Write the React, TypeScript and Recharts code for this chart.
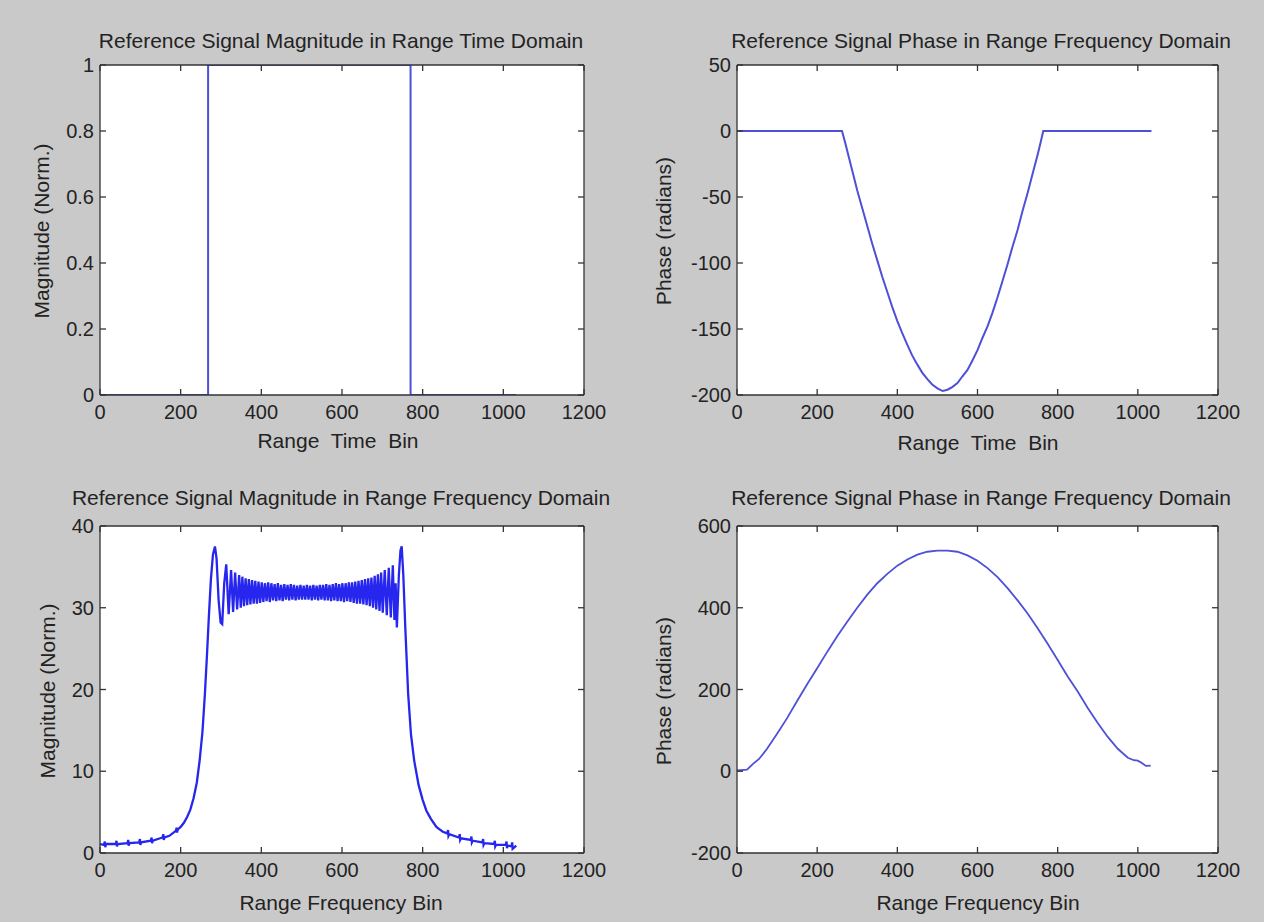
import React from "react";
import { LineChart, Line, XAxis, YAxis, CartesianGrid } from "recharts";

// values
const binTicks = [0, 200, 400, 600, 800, 1000, 1200];

// reference signal magnitude, range time domain: [bin, magnitude]
const timeMagPts = [
  [0, 0], [268, 0], [268, 1], [770, 1], [770, 0], [1032, 0],
];
const timeMagTicks = [0, 0.2, 0.4, 0.6, 0.8, 1];

// reference signal phase, range time domain: [bin, radians]
const timePhasePts = [
  [0, 0], [262, 0], [270, -9], [280, -21], [290, -33], [300, -45], [312, -58],
  [325, -72], [337, -85], [350, -98], [362, -110], [375, -122], [387, -133],
  [400, -144], [412, -153], [425, -162], [437, -170], [450, -177], [462, -183],
  [475, -188], [487, -192], [500, -195], [513, -197], [525, -196], [537, -194],
  [550, -191], [562, -186], [575, -181], [587, -174], [600, -166], [612, -157],
  [625, -148], [637, -138], [650, -126], [662, -114], [675, -101], [687, -88],
  [700, -75], [712, -61], [725, -47], [737, -33], [750, -18], [758, -8],
  [764, 0], [1034, 0],
];
const timePhaseTicks = [-200, -150, -100, -50, 0, 50];

// reference signal magnitude, range frequency domain (in pieces)
const freqMagTailLeft = [
  [0, 1.1], [10, 1.0], [12, 1.4], [13, 0.7], [15, 1.1],
  [39, 1.1], [41, 1.5], [42, 0.8], [44, 1.1],
  [68, 1.2], [70, 1.6], [71, 0.9], [73, 1.2],
  [97, 1.3], [99, 1.7], [100, 1.0], [102, 1.3],
  [126, 1.5], [128, 1.9], [129, 1.2], [131, 1.5],
  [155, 1.9], [157, 2.3], [158, 1.6], [160, 1.9],
  [172, 2.1], [188, 2.7], [190, 3.1], [191, 2.5], [193, 2.9], [200, 3.2],
];
const freqMagRise = [
  [208, 3.7], [216, 4.4], [224, 5.3], [232, 6.7], [240, 8.6], [247, 11.3],
  [254, 14.8], [260, 19.4], [265, 24], [270, 29], [275, 33.5], [280, 36.5],
  [285, 37.5], [289, 36], [294, 31], [299, 28.2], [303, 28.0],
];
const freqMagRipple = [
  [308, 33], [313, 35.3], [319, 29.2], [325, 34.6], [330, 29.5], [335, 34.3],
  [340, 29.8], [345, 34.0], [349, 30.0], [353, 33.8], [357, 30.2], [361, 33.6],
  [365, 30.3], [369, 33.5], [373, 30.4], [377, 33.4], [381, 30.5], [385, 33.3],
  [389, 30.5], [393, 33.2], [397, 30.6], [401, 33.1], [405, 30.7], [409, 33.0],
  [413, 30.8], [417, 33.1], [421, 30.7], [425, 33.0], [429, 30.9], [433, 32.9],
  [437, 30.8], [441, 33.0], [445, 30.9], [449, 32.8], [453, 30.8], [457, 32.9],
  [461, 31.0], [465, 32.8], [469, 30.9], [473, 32.9], [477, 31.0], [481, 32.8],
  [485, 30.9], [489, 32.7], [493, 31.0], [497, 32.8], [501, 31.0], [505, 32.7],
  [509, 31.0], [513, 32.8], [517, 31.0], [521, 32.7], [525, 30.9], [529, 32.8],
  [533, 31.0], [537, 32.7], [541, 30.9], [545, 32.8], [549, 31.0], [553, 32.8],
  [557, 30.9], [561, 32.9], [565, 30.9], [569, 32.8], [573, 30.8], [577, 32.9],
  [581, 30.9], [585, 33.0], [589, 30.8], [593, 32.9], [597, 30.8], [601, 33.0],
  [605, 30.7], [609, 33.0], [613, 30.8], [617, 33.1], [621, 30.7], [625, 33.1],
  [629, 30.6], [633, 33.2], [637, 30.5], [641, 33.3], [645, 30.5], [649, 33.4],
  [653, 30.4], [657, 33.5], [661, 30.3], [665, 33.6], [669, 30.2], [673, 33.7],
  [677, 30.0], [681, 33.9], [685, 29.8], [689, 34.1], [693, 29.6], [697, 34.3],
  [701, 29.4], [706, 34.6], [711, 29.1], [716, 34.9], [721, 28.8], [726, 35.2],
  [730, 28.5], [733, 33.0], [736, 27.6], [741, 34.0], [745, 37.0], [748, 37.5],
];
const freqMagFall = [
  [752, 34], [757, 27.5], [764, 19.5], [771, 14.5], [779, 11.3], [790, 8.3],
  [800, 6.5], [809, 5.2], [820, 4.2], [834, 3.2],
];
const freqMagTailRight = [
  [842, 2.9], [850, 2.6], [861, 2.4], [863, 2.8], [864, 2.1], [866, 2.3],
  [890, 1.9], [892, 2.3], [893, 1.6], [895, 1.8],
  [919, 1.6], [921, 2.0], [922, 1.3], [924, 1.5],
  [948, 1.3], [950, 1.7], [951, 1.0], [953, 1.2],
  [977, 1.1], [979, 1.5], [980, 0.8], [982, 1.0],
  [1006, 1.0], [1008, 1.4], [1009, 0.6], [1011, 0.9],
  [1020, 0.8], [1022, 1.3], [1023, 0.5], [1032, 0.9],
];
const freqMagTicks = [0, 10, 20, 30, 40];

// reference signal phase, range frequency domain: [bin, radians]
const freqPhasePts = [
  [0, 2], [10, 3], [25, 4], [40, 18], [55, 30], [75, 55], [100, 92], [125, 130],
  [150, 172], [175, 213], [200, 252], [225, 292], [250, 330], [275, 366],
  [300, 400], [325, 432], [350, 460], [375, 483], [400, 503], [425, 518],
  [450, 530], [475, 537], [500, 540], [525, 540], [550, 537], [575, 528],
  [600, 515], [625, 497], [650, 475], [675, 448], [700, 418], [725, 386],
  [750, 350], [775, 312], [800, 272], [825, 232], [850, 195], [875, 155],
  [900, 118], [925, 84], [950, 55], [975, 33], [990, 27], [1000, 26],
  [1010, 20], [1020, 13], [1032, 14],
];
const freqPhaseTicks = [-200, 0, 200, 400, 600];

const FONT = '"Liberation Sans", Arial, Helvetica, sans-serif';
const TEXT = "#232323";
const AXIS = "#333333";
const TICK = 6;

const rows = (pts: number[][]) => pts.map(([x, y]) => ({ x, y }));

const BottomTick = (props: any) => {
  const { x, y, payload } = props;
  const axisY = y - 2;
  return (
    <g>
      <line x1={x} y1={axisY} x2={x} y2={axisY - TICK} stroke={AXIS} strokeWidth={1.3} />
      <text x={x} y={axisY + 24} textAnchor="middle" fontSize={20} fontFamily={FONT} fill={TEXT}>
        {payload.value}
      </text>
    </g>
  );
};

const LeftTick = (props: any) => {
  const { x, y, payload } = props;
  const axisX = x + 2;
  return (
    <g>
      <line x1={axisX} y1={y} x2={axisX + TICK} y2={y} stroke={AXIS} strokeWidth={1.3} />
      <text x={axisX - 6} y={y + 7} textAnchor="end" fontSize={20} fontFamily={FONT} fill={TEXT}>
        {payload.value}
      </text>
    </g>
  );
};

const TopTick = (props: any) => (
  <line x1={props.x} y1={props.y} x2={props.x} y2={props.y + TICK} stroke={AXIS} strokeWidth={1.3} />
);

const RightTick = (props: any) => (
  <line x1={props.x} y1={props.y} x2={props.x - TICK} y2={props.y} stroke={AXIS} strokeWidth={1.3} />
);

interface PanelProps {
  px: number;
  py: number;
  pw: number;
  ph: number;
  yTicks: number[];
  pts: number[][];
  color: string;
  width: number;
}

const Panel = ({ px, py, pw, ph, yTicks, pts, color, width }: PanelProps) => {
  const yDomain = [yTicks[0], yTicks[yTicks.length - 1]];
  return (
    <div style={{ position: "absolute", left: px - 100, top: py - 65 }}>
      <LineChart
        width={pw + 150}
        height={ph + 125}
        data={rows(pts)}
        margin={{ top: 64, right: 49, bottom: 20, left: 40 }}
      >
        <CartesianGrid fill="#ffffff" horizontal={false} vertical={false} stroke="none" />
        <XAxis
          type="number"
          dataKey="x"
          domain={[0, 1200]}
          ticks={binTicks}
          interval={0}
          allowDataOverflow
          height={40}
          tickSize={0}
          tickMargin={2}
          tickLine={false}
          axisLine={{ stroke: AXIS, strokeWidth: 1.3 }}
          tick={<BottomTick />}
        />
        <XAxis
          xAxisId="top"
          orientation="top"
          type="number"
          dataKey="x"
          domain={[0, 1200]}
          ticks={binTicks}
          interval={0}
          allowDataOverflow
          height={1}
          tickSize={0}
          tickMargin={0}
          tickLine={false}
          axisLine={{ stroke: AXIS, strokeWidth: 1.3 }}
          tick={<TopTick />}
        />
        <YAxis
          type="number"
          domain={yDomain}
          ticks={yTicks}
          interval={0}
          allowDataOverflow
          width={60}
          tickSize={0}
          tickMargin={2}
          tickLine={false}
          axisLine={{ stroke: AXIS, strokeWidth: 1.3 }}
          tick={<LeftTick />}
        />
        <YAxis
          yAxisId="right"
          orientation="right"
          type="number"
          domain={yDomain}
          ticks={yTicks}
          interval={0}
          allowDataOverflow
          width={1}
          tickSize={0}
          tickMargin={0}
          tickLine={false}
          axisLine={{ stroke: AXIS, strokeWidth: 1.3 }}
          tick={<RightTick />}
        />
        <Line
          dataKey="y"
          type="linear"
          stroke={color}
          strokeWidth={width}
          dot={false}
          isAnimationActive={false}
        />
      </LineChart>
    </div>
  );
};

const Caption = ({ x, y, text, vertical }: { x: number; y: number; text: string; vertical?: boolean }) => (
  <div
    style={{
      position: "absolute",
      left: x,
      top: y,
      transform: `translate(-50%, -50%)${vertical ? " rotate(-90deg)" : ""}`,
      whiteSpace: "pre",
      fontFamily: FONT,
      fontSize: 21,
      lineHeight: "21px",
      color: TEXT,
    }}
  >
    {text}
  </div>
);

export default function App() {
  const lineBlue = "#4f4fd8";
  const freqMagPts = [
    ...freqMagTailLeft,
    ...freqMagRise,
    ...freqMagRipple,
    ...freqMagFall,
    ...freqMagTailRight,
  ];
  return (
    <div
      style={{
        position: "absolute",
        left: 0,
        top: 0,
        width: 1264,
        height: 922,
        background: "#c9c9c9",
        overflow: "hidden",
      }}
    >
      <Panel px={100} py={65} pw={484} ph={330} yTicks={timeMagTicks}
        pts={timeMagPts} color={lineBlue} width={2} />
      <Panel px={737} py={65} pw={481} ph={330} yTicks={timePhaseTicks}
        pts={timePhasePts} color={lineBlue} width={2} />
      <Panel px={100} py={526} pw={484} ph={327} yTicks={freqMagTicks}
        pts={freqMagPts} color="#2626ee" width={2.3} />
      <Panel px={737} py={526} pw={481} ph={327} yTicks={freqPhaseTicks}
        pts={freqPhasePts} color={lineBlue} width={1.8} />

      <Caption x={341} y={40} text="Reference Signal Magnitude in Range Time Domain" />
      <Caption x={981} y={40} text="Reference Signal Phase in Range Frequency Domain" />
      <Caption x={341} y={497} text="Reference Signal Magnitude in Range Frequency Domain" />
      <Caption x={981} y={497} text="Reference Signal Phase in Range Frequency Domain" />

      <Caption x={338} y={440} text="Range  Time  Bin" />
      <Caption x={978} y={442} text="Range  Time  Bin" />
      <Caption x={341} y={902} text="Range Frequency Bin" />
      <Caption x={978} y={902} text="Range Frequency Bin" />

      <Caption x={41} y={231} text="Magnitude (Norm.)" vertical />
      <Caption x={663} y={231} text="Phase (radians)" vertical />
      <Caption x={47} y={691} text="Magnitude (Norm.)" vertical />
      <Caption x={663} y={691} text="Phase (radians)" vertical />
    </div>
  );
}
